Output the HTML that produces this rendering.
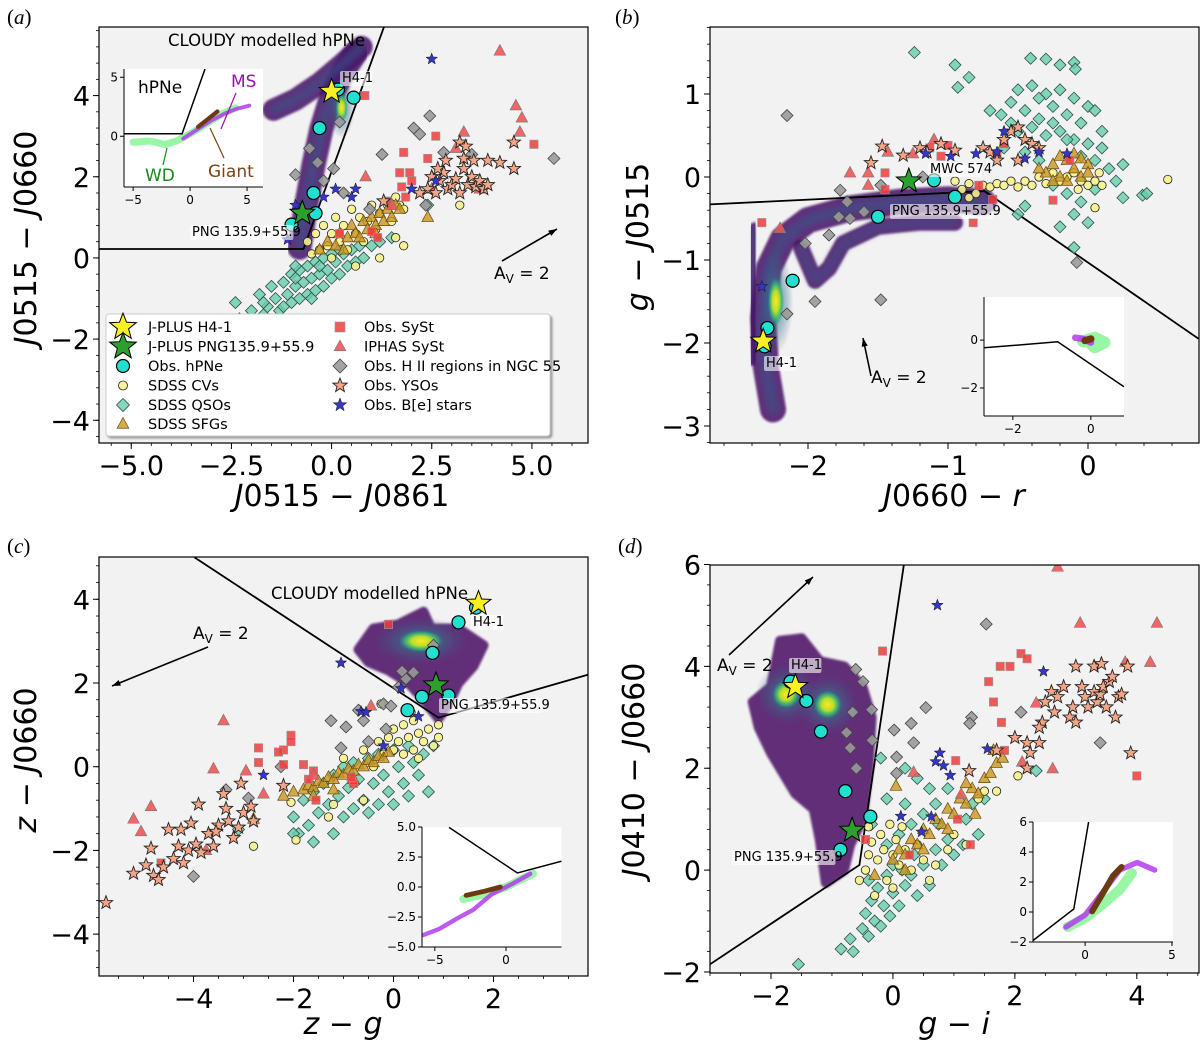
<!DOCTYPE html>
<html><head><meta charset="utf-8"><style>
html,body{margin:0;padding:0;background:#fff;}
svg{display:block;font-family:"DejaVu Sans","Liberation Sans",sans-serif;}
</style></head><body>
<svg id="fig" width="1200" height="1047" viewBox="0 0 1200 1047" xmlns="http://www.w3.org/2000/svg">
<defs>
<filter id="blur2" x="-20%" y="-20%" width="140%" height="140%"><feGaussianBlur stdDeviation="1"/></filter>
<filter id="blur5" x="-50%" y="-50%" width="200%" height="200%"><feGaussianBlur stdDeviation="4"/></filter>
<filter id="shadow" x="-5%" y="-5%" width="110%" height="115%"><feDropShadow dx="2" dy="2" stdDeviation="1" flood-color="#999"/></filter>
<radialGradient id="hot"><stop offset="0" stop-color="#fde725"/><stop offset="0.45" stop-color="#b5de2b"/><stop offset="0.75" stop-color="#35b779" stop-opacity="0.8"/><stop offset="1" stop-color="#21918c" stop-opacity="0"/></radialGradient>
<radialGradient id="warm"><stop offset="0" stop-color="#2a9d8a" stop-opacity="0.9"/><stop offset="1" stop-color="#3b528b" stop-opacity="0"/></radialGradient>
</defs>
</svg>
<script>
// ===== Panel (a) data: x = J0515-J0861, y = J0515-J0660 =====
const a_xTicks=[-5,-2.5,0,2.5,5];
const a_xTickLabels=['\u22125.0','\u22122.5','0.0','2.5','5.0'];
const a_yTicks=[-4,-2,0,2,4];
const a_yTickLabels=['\u22124','\u22122','0','2','4'];
const a_boundary=[[-5.8,0.22],[-0.7,0.22],[1.31,5.7]];
const a_cloudyStem=[[-0.8,0.25],[-0.65,1.2],[-0.45,2.3],[-0.25,3.2],[0.0,4.0],[0.3,4.6],[0.6,5.05]];
const a_cloudyArm=[[-1.45,3.65],[-0.9,3.9],[-0.3,4.3],[0.3,4.8],[0.75,5.2]];
const a_hot=[[0.25,3.7]];
const a_qso=[[-2.4,-1.1],[-2.3,-1.5],[-2.0,-1.3],[-1.8,-0.9],[-1.7,-1.4],[-1.6,-1.2],[-1.5,-0.7],[-1.4,-1.0],[-1.3,-1.3],[-1.2,-0.6],[-1.1,-0.9],[-1.0,-0.4],[-1.0,-1.1],[-0.9,-0.7],[-0.8,-0.3],[-0.8,-1.0],[-0.7,-0.6],[-0.6,-0.2],[-0.6,-0.9],[-0.5,-0.5],[-0.4,-0.1],[-0.4,-0.8],[-0.3,-0.4],[-0.2,0.0],[-0.2,-0.7],[-0.1,-0.3],[0,-0.5],[0.1,-0.1],[0.2,-0.4],[0.3,0.1],[0.4,-0.2],[0.5,0.2],[0.6,-0.1],[0.7,0.3],[0.8,0.0],[1.0,0.3],[1.2,0.4],[1.5,0.5],[2.4,1.3],[-1.7,-1.1],[-0.9,-0.2],[0.0,0.1],[-1.2,-1.2],[-0.5,-1.0],[0.2,0.2],[-0.9,-0.5],[-0.3,-0.2]];
const a_cv=[[-0.6,0.4],[-0.5,0.1],[-0.4,0.6],[-0.3,0.2],[-0.2,0.8],[-0.1,0.3],[0,0.6],[0,0.0],[0.1,1.0],[0.2,0.4],[0.3,0.8],[0.4,0.2],[0.5,1.2],[0.6,0.6],[0.7,1.0],[0.8,0.4],[0.9,0.9],[1.0,1.3],[1.1,0.7],[1.2,1.1],[1.4,1.3],[1.5,0.9],[1.6,1.5],[1.7,1.3],[1.8,1.2],[1.8,0.3],[1.2,0.0],[0.6,-0.2],[3.2,1.3],[0.3,1.6],[1.6,0.5]];
const a_sfg=[[-0.3,0.2],[-0.1,0.4],[0.1,0.3],[0.2,0.6],[0.4,0.5],[0.5,0.8],[0.6,0.6],[0.8,0.9],[0.9,0.7],[1.0,1.0],[1.1,0.8],[1.2,1.1],[1.3,0.9],[1.4,1.2],[1.5,1.0],[1.6,1.3],[1.7,1.2],[0.3,0.2],[0.7,0.5],[1.1,0.6],[2.4,1.0]];
const a_syst=[[0.83,4.0],[2.6,3.0],[5.05,2.8],[1.8,2.6],[2.4,2.45],[1.7,2.1],[1.95,2.1],[2.0,1.9],[1.75,1.75],[1.85,1.5],[1.4,1.4],[0.2,0.6],[1.0,0.65],[1.15,0.5]];
const a_iphas=[[4.2,5.1],[4.6,3.75],[4.75,3.45],[4.7,3.1],[3.3,3.1],[3.1,2.7],[0.85,2.0],[3.7,1.7],[1.5,1.3],[2.5,1.7]];
const a_hii=[[2.45,3.5],[2.05,3.2],[2.2,3.05],[1.26,2.55],[5.55,2.45],[-0.55,2.7],[-0.35,2.35],[-0.9,2.05],[0.05,2.2],[0.2,3.35],[2.8,2.6],[3.5,2.55],[0.3,1.6],[0.95,1.2],[-0.2,1.9],[2.35,1.3]];
const a_yso=[[2.4,1.7],[2.5,2.0],[2.6,1.6],[2.7,1.9],[2.8,2.1],[2.9,1.7],[3.0,1.8],[3.1,1.95],[3.2,1.6],[3.3,2.2],[3.4,1.8],[3.5,2.0],[3.6,1.75],[3.7,1.9],[3.8,1.7],[3.9,1.8],[3.3,2.45],[3.55,2.4],[2.85,2.4],[2.65,2.2],[3.9,2.4],[1.3,1.4],[2.2,1.6],[3.2,2.85],[3.35,2.75],[4.55,2.85],[4.55,2.2],[4.2,2.35]];
const a_be=[[2.5,4.9],[-1.1,0.45],[-0.9,1.3],[0.1,1.7],[0.5,1.5],[0.6,1.7],[2.0,1.7],[2.6,1.9],[-0.2,1.5]];
const a_hpne=[[0.16,4.15],[0.55,3.95],[-0.3,3.2],[-0.45,1.6],[-0.4,1.1],[-1.0,0.82]];
const a_h41=[[0.0,4.1]];
const a_png=[[-0.73,1.1]];
// panel (a) inset
const ai_xTicks=[-5,0,5]; const ai_xTickLabels=['\u22125','0','5'];
const ai_yTicks=[0,5]; const ai_yTickLabels=['0','5'];
const ai_boundary=[[-5.8,0.22],[-0.7,0.22],[1.31,5.7]];
const ai_wd=[[-5,-0.5],[-3.5,-0.4],[-2.2,-0.7],[-1.2,-0.4],[0,0.2],[1.5,1.1],[3,2.0],[4,2.4]];
const ai_ms=[[-0.6,-0.2],[0.5,0.5],[1.8,1.3],[3,1.9],[4,2.3],[5.2,2.6]];
const ai_giant=[[0.7,0.8],[1.5,1.4],[2.4,2.1]];

// ===== Panel (b) data: x = J0660-r, y = g-J0515 =====
const b_xTicks=[-2,-1,0]; const b_xTickLabels=['\u22122','\u22121','0'];
const b_yTicks=[-3,-2,-1,0,1]; const b_yTickLabels=['\u22123','\u22122','\u22121','0','1'];
const b_boundary=[[-2.7,-0.33],[-0.74,-0.17],[0.79,-1.95]];
const b_cloudyMain=[[-2.25,-2.8],[-2.3,-2.3],[-2.32,-1.7],[-2.28,-1.1],[-2.18,-0.75],[-2.0,-0.52],[-1.7,-0.38],[-1.35,-0.3],[-1.0,-0.27],[-0.75,-0.3]];
const b_cloudyStem=[[-2.4,-2.2],[-2.4,-1.2],[-2.38,-0.62]];
const b_cloudyLow=[[-2.05,-0.85],[-1.95,-1.25],[-1.85,-1.1],[-1.75,-0.8],[-1.5,-0.6],[-1.2,-0.55],[-0.95,-0.55]];
const b_hot=[[-2.23,-1.5]];
const b_qso=[[-1.24,1.5],[-0.95,1.35],[-0.85,1.2],[-0.93,1.08],[-0.41,1.43],[-0.3,1.42],[-0.2,1.35],[-0.1,1.38],[-0.09,1.3],[-0.5,1.05],[-0.4,1.1],[-0.3,1.0],[-0.2,1.05],[-0.1,0.95],[0.0,0.85],[-0.62,0.75],[-0.55,0.9],[-0.45,0.8],[-0.35,0.7],[-0.25,0.85],[-0.15,0.75],[-0.05,0.65],[0.05,0.8],[-0.7,0.8],[-0.5,0.55],[-0.4,0.6],[-0.3,0.5],[-0.2,0.55],[-0.1,0.45],[0.0,0.4],[0.1,0.35],[-0.6,0.35],[-0.45,0.3],[-0.35,0.2],[0.05,0.2],[0.15,0.1],[0.2,-0.05],[0.25,0.15],[-0.15,-0.2],[-0.05,-0.3],[0.05,-0.15],[-0.1,-0.45],[0.0,-0.55],[-0.2,-0.6],[-0.45,-0.35],[-0.5,-0.45],[0.39,-0.22],[0.42,-0.2],[-0.1,-0.85],[0.25,-0.25],[-0.25,-0.1],[-0.35,0.95],[-0.25,0.65],[-0.15,0.45],[-0.05,0.25],[0.1,0.55],[-0.55,0.65]];
const b_cv=[[-0.95,-0.05],[-0.9,-0.15],[-0.85,-0.08],[-0.8,-0.2],[-0.75,-0.1],[-0.7,-0.12],[-0.65,-0.08],[-0.6,-0.1],[-0.55,-0.05],[-0.5,-0.12],[-0.45,-0.05],[-0.4,-0.1],[-0.35,0.0],[-0.3,-0.08],[-0.25,0.05],[-0.2,-0.05],[-0.15,0.0],[-0.1,0.05],[-0.05,-0.05],[0.0,-0.1],[0.05,-0.05],[0.1,-0.1],[0.08,0.05],[-0.07,-0.15],[0.57,-0.03],[0.05,-0.37],[-0.85,-0.25]];
const b_sfg=[[-0.3,0.05],[-0.25,0.15],[-0.2,0.0],[-0.15,0.2],[-0.1,0.1],[-0.05,0.0],[0.0,0.15],[-0.2,0.25],[-0.1,0.28],[-0.25,-0.05],[-0.05,0.22],[0.0,0.05],[-0.35,0.1],[-0.15,-0.05]];
const b_syst=[[-2.33,-0.55],[-1.45,-0.15],[-1.45,0.05],[-1.13,0.35],[-1.0,0.38],[-1.05,0.25],[-0.6,0.4],[-0.78,-0.1],[-0.68,-0.27],[-0.82,-0.55],[-0.13,0.2],[-0.25,-0.28],[-0.65,0.25]];
const b_iphas=[[-2.2,-0.62],[-1.7,0.05],[-1.57,0.05],[-1.57,-0.1],[-1.43,0.3],[-1.25,0.28],[-1.1,0.45]];
const b_hii=[[-2.15,0.74],[-1.77,-0.16],[-1.72,-0.3],[-1.48,-0.1],[-1.48,-1.48],[-1.95,-1.5],[-2.15,-1.65],[-2.02,-0.8],[-1.6,-0.42],[-1.78,-0.48],[-1.7,-0.5],[-1.85,-0.7],[-0.08,-1.03],[-1.18,0.0]];
const b_yso=[[-1.47,0.37],[-1.32,0.26],[-1.55,0.17],[-1.2,0.35],[-1.15,0.3],[-1.05,0.4],[-0.95,0.32],[-0.75,0.35],[-0.7,0.3],[-0.6,0.45],[-0.55,0.55],[-0.5,0.6],[-0.45,0.45],[-0.4,0.4],[-0.35,0.35],[-0.65,0.2],[-0.5,0.2]];
const b_be=[[-2.33,-1.32],[-1.16,0.28],[-0.98,0.25],[-0.8,0.28],[-0.65,0.3],[-0.6,0.55],[-0.45,0.22],[-0.35,0.3],[-0.15,0.28]];
const b_hpne=[[-2.11,-1.25],[-2.29,-1.82],[-2.31,-2.04],[-1.5,-0.48],[-0.95,-0.24],[-1.1,-0.04]];
const b_h41=[[-2.32,-1.98]];
const b_png=[[-1.28,-0.05]];
const bi_xTicks=[-2,0]; const bi_xTickLabels=['\u22122','0'];
const bi_yTicks=[-2,0]; const bi_yTickLabels=['\u22122','0'];
const bi_boundary=[[-2.74,-0.32],[-0.85,-0.07],[0.85,-1.95]];
const bi_green=[[-0.2,-0.05],[0.1,0.1],[0.35,-0.1],[0.1,-0.3],[-0.1,0.0]];
const bi_ms=[[-0.4,0.1],[-0.2,0.05],[0.0,-0.1]];
const bi_giant=[[-0.15,-0.02],[0.0,0.05]];

// ===== Panel (c) data: x = z-g, y = z-J0660 =====
const c_xTicks=[-4,-2,0,2]; const c_xTickLabels=['\u22124','\u22122','0','2'];
const c_yTicks=[-4,-2,0,2,4]; const c_yTickLabels=['\u22124','\u22122','0','2','4'];
const c_boundary=[[-3.98,5.0],[0.9,1.17],[3.9,2.2]];
const c_cloudyBlob=[[-0.7,2.8],[-0.4,3.3],[0.1,3.4],[0.6,3.7],[0.75,3.3],[1.3,3.3],[1.8,2.9],[1.6,2.4],[1.3,2.0],[1.1,1.5],[0.9,1.15],[0.6,1.6],[0.3,2.0],[-0.1,2.3],[-0.5,2.5]];
const c_hot=[[0.55,3.0]];
const c_qso=[[-2.0,-1.2],[-1.9,-1.6],[-1.8,-0.8],[-1.7,-1.4],[-1.6,-0.6],[-1.5,-1.1],[-1.4,-0.4],[-1.3,-0.9],[-1.2,-1.6],[-1.2,-0.2],[-1.1,-0.7],[-1.0,-1.2],[-1.0,0.0],[-0.9,-0.5],[-0.8,-1.0],[-0.8,0.1],[-0.7,-0.3],[-0.6,-0.8],[-0.5,0.2],[-0.5,-1.1],[-0.4,-0.4],[-0.3,-0.9],[-0.3,0.3],[-0.2,-0.2],[-0.1,-0.6],[0.0,0.4],[0.0,-0.9],[0.1,0.0],[0.2,-0.4],[0.3,0.5],[0.3,-0.7],[0.4,0.1],[0.5,-0.2],[0.6,0.3],[0.7,-0.6],[0.8,0.5],[-3.1,-1.5],[-1.6,-1.8],[-2.0,-1.6]];
const c_cv=[[-1.0,0.2],[-0.8,-0.4],[-0.6,0.4],[-0.4,0.0],[-0.3,0.6],[-0.2,0.3],[-0.1,0.7],[0.0,0.4],[0.0,0.9],[0.1,0.6],[0.2,1.0],[0.2,0.3],[0.3,0.7],[0.4,1.1],[0.4,0.4],[0.5,0.8],[0.5,0.2],[0.6,0.6],[0.7,0.9],[0.8,0.5],[0.9,0.7],[0.35,1.3],[0.9,1.0],[-0.25,1.5],[-1.3,-1.2],[-2.8,-1.9],[-1.95,-1.75],[-2.05,-0.85],[-0.6,-0.8],[-1.2,-0.9]];
const c_sfg=[[-2.0,-0.6],[-1.8,-0.55],[-1.7,-0.45],[-1.6,-0.5],[-1.5,-0.35],[-1.4,-0.4],[-1.3,-0.25],[-1.2,-0.3],[-1.1,-0.15],[-1.0,-0.2],[-0.9,-0.05],[-0.8,-0.1],[-0.7,0.05],[-0.6,0.0],[-0.5,0.15],[-0.4,0.1],[-0.3,0.25],[-0.2,0.2],[-0.1,0.35],[-1.6,-0.7],[-1.2,-0.55],[-0.8,-0.3],[-2.8,-1.25],[-2.2,-0.7]];
const c_syst=[[-0.1,3.4],[-2.05,0.75],[-2.05,0.6],[-2.7,0.45],[-2.2,0.4],[-2.7,0.1],[-2.3,0.35],[-1.8,0.05],[-2.2,0.05],[-1.6,-0.1],[-1.7,-0.3],[-1.55,-0.8],[-0.8,-0.4],[-0.85,-0.25],[-4.65,-2.3]];
const c_iphas=[[-3.4,1.1],[-3.6,-0.05],[-2.95,-0.1],[-2.6,-0.65],[-4.85,-0.95],[-5.2,-1.25],[-5.05,-1.55],[-3.75,-2.0],[-0.45,1.45],[-1.6,-0.2]];
const c_hii=[[-1.25,1.1],[-0.95,0.95],[-0.2,1.5],[-0.05,1.45],[0.1,1.9],[0.25,2.1],[-0.15,0.9],[-0.5,0.6],[-1.05,0.45],[-2.25,0.0],[-3.35,-0.55],[-2.9,-0.75],[-4.0,-2.62],[0.8,2.9],[0.17,2.28],[0.4,2.25],[-0.6,1.1],[-0.7,1.35]];
const c_yso=[[-5.75,-3.25],[-5.2,-2.55],[-4.95,-2.35],[-4.85,-1.95],[-4.8,-2.6],[-4.7,-2.7],[-4.6,-2.4],[-4.5,-1.5],[-4.4,-2.2],[-4.3,-1.9],[-4.25,-1.5],[-4.2,-2.3],[-4.1,-2.0],[-4.05,-1.35],[-3.95,-1.85],[-3.9,-0.9],[-3.85,-2.05],[-3.7,-1.6],[-3.6,-1.9],[-3.5,-1.4],[-3.4,-0.65],[-3.35,-1.0],[-3.3,-1.3],[-3.2,-1.7],[-3.1,-1.45],[-3.0,-1.1],[-3.05,-0.4],[-2.85,-0.95],[-2.8,-1.3],[-2.2,-0.45],[-3.55,-1.55]];
const c_be=[[-1.05,2.48],[-0.65,1.32],[-0.55,1.3],[-2.6,-0.2],[0.15,1.87],[0.5,1.2],[-0.2,0.5]];
const c_hpne=[[1.65,3.8],[1.3,3.45],[0.78,2.72],[0.57,1.67],[1.1,1.7],[0.28,1.35]];
const c_h41=[[1.7,3.9]];
const c_png=[[0.85,1.95]];
const ci_xTicks=[-5,0]; const ci_xTickLabels=['\u22125','0'];
const ci_yTicks=[-5,-2.5,0,2.5,5]; const ci_yTickLabels=['\u22125.0','\u22122.5','0.0','2.5','5.0'];
const ci_boundary=[[-4.0,4.97],[0.8,1.17],[3.9,2.15]];
const ci_green=[[-3.0,-1.0],[-1.5,-0.6],[0,0.0],[1.0,0.6],[1.9,1.1]];
const ci_ms=[[-5.8,-4.0],[-4.7,-3.5],[-3.4,-2.6],[-2.3,-1.9],[-1.0,-0.6],[0.5,0.3],[1.7,1.1]];
const ci_giant=[[-2.8,-0.7],[-1.5,-0.35],[-0.4,0.0]];

// ===== Panel (d) data: x = g-i, y = J0410-J0660 =====
const d_xTicks=[-2,0,2,4]; const d_xTickLabels=['\u22122','0','2','4'];
const d_yTicks=[-2,0,2,4,6]; const d_yTickLabels=['\u22122','0','2','4','6'];
const d_boundary=[[-3.0,-1.85],[-0.55,0.1],[0.18,6.0]];
const d_cloudyBlob=[[-2.3,3.3],[-2.0,3.6],[-1.85,4.5],[-1.5,4.55],[-1.2,4.1],[-0.8,4.0],[-0.5,3.6],[-0.35,3.0],[-0.4,2.0],[-0.5,1.0],[-0.7,0.5],[-0.8,0.0],[-1.1,-0.25],[-1.2,0.6],[-1.3,1.2],[-1.6,1.5],[-1.8,1.9],[-2.0,2.3],[-2.2,2.8]];
const d_hot=[[-1.07,3.25],[-1.75,3.45]];
const d_qso=[[-1.55,-1.85],[-0.85,-1.55],[-0.65,-1.6],[-0.7,-1.35],[-0.5,-1.15],[-0.4,-1.3],[-0.45,-0.85],[-0.3,-1.0],[-0.2,-1.1],[-0.35,-0.6],[-0.15,-0.7],[-0.05,-0.9],[-0.25,-0.35],[0.0,-0.45],[0.1,-0.7],[0.2,-0.3],[-0.1,-0.1],[0.15,0.0],[0.3,-0.1],[0.4,-0.5],[0.5,0.1],[0.35,0.3],[0.6,-0.3],[0.7,0.4],[0.8,0.1],[0.9,0.6],[1.0,0.3],[-0.1,0.5],[0.1,0.7],[0.3,0.9],[0.5,1.1],[0.7,1.3],[0.9,1.6],[0.6,1.6],[0.4,1.8],[0.2,2.0],[-0.2,2.2],[-0.1,1.4],[-0.4,-0.2],[1.2,1.0],[1.4,0.7],[1.15,0.5],[1.5,1.4],[0.0,0.1],[0.2,1.3],[-0.35,0.9],[0.75,0.9],[1.3,1.3],[2.35,1.95]];
const d_cv=[[-0.55,-0.2],[-0.45,0.0],[-0.4,0.3],[-0.35,0.55],[-0.3,-0.5],[-0.25,0.2],[-0.2,0.7],[-0.15,0.4],[-0.1,-0.2],[-0.05,0.9],[0.0,0.3],[0.05,0.6],[0.1,0.1],[0.15,0.85],[0.2,0.4],[0.3,0.0],[0.4,0.5],[0.5,0.2],[0.6,-0.2],[0.7,0.1],[0.9,0.4],[1.0,0.7],[1.4,1.4],[1.5,1.55],[1.7,1.55],[1.2,0.5],[2.05,1.85],[-0.4,0.85],[0.0,-0.35]];
const d_sfg=[[0.0,0.2],[0.1,0.4],[0.2,0.3],[0.3,0.6],[0.4,0.5],[0.5,0.8],[0.6,0.7],[0.7,1.0],[0.8,0.9],[0.9,1.2],[1.0,1.1],[1.1,1.4],[1.2,1.3],[1.3,1.6],[1.4,1.5],[1.5,1.8],[1.6,1.9],[1.7,2.1],[1.8,2.2],[-0.3,-0.1],[0.2,0.0],[0.5,0.4],[0.9,0.8],[1.2,1.7],[0.05,1.65],[1.65,2.35],[1.35,1.1]];
const d_syst=[[-0.17,4.3],[2.1,4.25],[2.2,4.15],[1.76,4.0],[1.92,4.0],[1.57,3.7],[1.65,3.3],[1.78,2.9],[1.83,2.35],[1.03,2.15],[4.0,1.85],[1.06,1.0],[1.27,0.5],[0.27,0.3],[-0.45,0.6]];
const d_iphas=[[2.7,5.95],[3.07,4.85],[4.33,4.85],[4.22,4.08],[3.81,4.08],[2.35,3.28],[2.62,1.99],[2.12,2.12],[0.34,1.92],[1.12,1.49]];
const d_hii=[[1.53,4.83],[-0.61,3.94],[-0.49,3.7],[0.54,3.19],[-0.35,3.15],[-0.66,3.1],[1.29,3.0],[1.26,2.88],[2.1,3.1],[0.3,2.88],[-0.76,2.7],[0.02,2.75],[0.34,2.5],[-0.7,2.4],[-0.34,2.55],[-0.6,2.0],[0.06,2.22],[3.4,2.5],[0.06,1.9]];
const d_yso=[[2.2,2.0],[2.0,2.6],[2.2,2.5],[2.4,2.5],[2.25,2.3],[2.5,3.3],[2.45,2.9],[2.6,3.5],[2.7,3.4],[2.8,3.6],[2.65,3.1],[2.9,3.0],[2.95,3.2],[3.0,2.9],[3.1,3.6],[3.15,3.4],[3.2,3.2],[3.3,3.5],[3.35,3.3],[3.4,3.45],[3.45,3.6],[3.5,3.2],[3.55,3.7],[3.6,3.8],[3.65,3.0],[3.7,3.4],[3.3,4.0],[3.42,4.05],[3.85,4.0],[3.75,3.45],[3.0,4.0],[3.9,2.3],[1.25,1.95],[1.7,2.35],[2.4,2.8]];
const d_be=[[0.73,5.2],[2.47,3.9],[1.55,2.38],[0.77,2.3],[0.7,2.13],[0.83,2.05],[0.94,1.86],[0.13,1.06],[0.63,1.05],[0.47,0.75]];
const d_hpne=[[-1.68,3.7],[-1.42,3.32],[-1.18,2.72],[-0.78,1.55],[-0.37,1.05],[-0.86,0.4]];
const d_h41=[[-1.6,3.6]];
const d_png=[[-0.67,0.78]];
const di_xTicks=[0,5]; const di_xTickLabels=['0','5'];
const di_yTicks=[-2,0,2,4,6]; const di_yTickLabels=['\u22122','0','2','4','6'];
const di_boundary=[[-3.0,-1.9],[-0.65,0.2],[0.2,6.0]];
const di_green=[[-1.0,-1.0],[0.0,-0.4],[1.0,0.5],[2.0,1.5],[2.7,2.6]];
const di_ms=[[-1.1,-1.0],[0.0,-0.2],[1.0,1.3],[2.0,2.8],[3.0,3.3],[4.0,2.8]];
const di_giant=[[0.4,0.05],[1.0,1.2],[1.6,2.4],[2.1,3.0]];

// ================= rendering =================
const NS='http://www.w3.org/2000/svg';
const svg=document.getElementById('fig');
function mk(tag,attrs,parent){const e=document.createElementNS(NS,tag);for(const k in attrs)e.setAttribute(k,attrs[k]);(parent||svg).appendChild(e);return e;}
function scale(d0,d1,p0,p1){return v=>p0+(v-d0)/(d1-d0)*(p1-p0);}
function starPts(cx,cy,r){let s=[];for(let i=0;i<10;i++){const a=-Math.PI/2+i*Math.PI/5;const rr=i%2?r*0.42:r;s.push((cx+rr*Math.cos(a)).toFixed(1)+','+(cy+rr*Math.sin(a)).toFixed(1));}return s.join(' ');}
function marker(g,type,x,y,s,fill,stroke,sw,op){
  let e;
  if(type==='circle')e=mk('circle',{cx:x,cy:y,r:s},g);
  else if(type==='square')e=mk('rect',{x:x-s,y:y-s,width:2*s,height:2*s},g);
  else if(type==='diamond')e=mk('polygon',{points:`${x},${y-s} ${x+s},${y} ${x},${y+s} ${x-s},${y}`},g);
  else if(type==='triangle')e=mk('polygon',{points:`${x},${y-s} ${x+s*0.9},${y+s*0.65} ${x-s*0.9},${y+s*0.65}`},g);
  else e=mk('polygon',{points:starPts(x,y,s)},g);
  e.setAttribute('fill',fill);e.setAttribute('stroke',stroke);e.setAttribute('stroke-width',sw||0.8);
  if(op!==undefined)e.setAttribute('fill-opacity',op);
  return e;
}
const STY={
 qso:['diamond',6,'#66cdaa','#2f4f4f',0.8,0.8],
 cv:['circle',4.2,'#f7f28c','#222',0.8,0.9],
 sfg:['triangle',6.5,'#c8961e','#6b4a10',0.7,0.8],
 syst:['square',4.2,'#f03c3c','#999',0.6,0.85],
 iphas:['triangle',6.5,'#f05555','#777',0.6,0.9],
 hii:['diamond',6,'#9a9a9a','#444',0.8,0.9],
 yso:['star',7,'#f4a585','#222',0.9,1],
 be:['star',6,'#3535c8','#111',0.5,1],
 hpne:['circle',6.5,'#20e0cf','#000',1.2,1],
 h41:['star',13,'#f8f020','#000',1,1],
 png:['star',13,'#2ca02c','#000',1,1]
};
function series(g,pts,sx,sy,key,name){
  const st=STY[key];
  pts.forEach(p=>{
    const m=marker(g,st[0],sx(p[0]),sy(p[1]),st[1],st[2],st[3],st[4],st[5]);
    
    
  });
}
function pathD(pts,sx,sy){return pts.map((p,i)=>(i?'L':'M')+sx(p[0]).toFixed(1)+','+sy(p[1]).toFixed(1)).join(' ');}
function text(g,x,y,str,size,anchor,extra){const t=mk('text',{x:x,y:y,'font-size':size,'text-anchor':anchor||'start'},g);t.textContent=str;if(extra)for(const k in extra)t.setAttribute(k,extra[k]);return t;}
function mathLabel(g,x,y,parts,size,rot){
  const t=mk('text',{x:x,y:y,'font-size':size,'text-anchor':'middle'},g);
  if(rot)t.setAttribute('transform',`rotate(-90 ${x} ${y})`);
  parts.forEach(p=>{const s=mk('tspan',{},t);s.textContent=p[0];if(p[1])s.setAttribute('font-style','italic');});
  return t;
}
function makePanel(id,box,dom,xt,xtl,yt,ytl,xmin,ymin){
  const g=mk('g',{});
  
  
  const sx=scale(dom[0],dom[1],box[0],box[1]);
  const sy=scale(dom[2],dom[3],box[3],box[2]);
  const bg=mk('rect',{x:box[0],y:box[2],width:box[1]-box[0],height:box[3]-box[2],fill:'#f2f2f2'},g);
  
  
  const cp=mk('clipPath',{id:'clip'+id},g);
  mk('rect',{x:box[0],y:box[2],width:box[1]-box[0],height:box[3]-box[2]},cp);
  const plot=mk('g',{'clip-path':`url(#clip${id})`},g);
  const ax=mk('g',{},g);
  
  
  for(let v=Math.ceil(dom[0]/xmin)*xmin;v<=dom[1]+1e-9;v+=xmin){const X=sx(v);mk('line',{x1:X,x2:X,y1:box[3],y2:box[3]+3,stroke:'#000','stroke-width':0.8},ax);}
  for(let v=Math.ceil(dom[2]/ymin)*ymin;v<=dom[3]+1e-9;v+=ymin){const Y=sy(v);mk('line',{x1:box[0]-3,x2:box[0],y1:Y,y2:Y,stroke:'#000','stroke-width':0.8},ax);}
  xt.forEach((v,i)=>{const X=sx(v);mk('line',{x1:X,x2:X,y1:box[3],y2:box[3]+6,stroke:'#000','stroke-width':1},ax);
    const t=text(ax,X,box[3]+32,xtl[i],27,'middle');});
  yt.forEach((v,i)=>{const Y=sy(v);mk('line',{x1:box[0]-6,x2:box[0],y1:Y,y2:Y,stroke:'#000','stroke-width':1},ax);
    const t=text(ax,box[0]-9,Y+10,ytl[i],27,'end');});
  return {g,plot,ax,sx,sy,box};
}
function frame(P){const r=mk('rect',{x:P.box[0],y:P.box[2],width:P.box[1]-P.box[0],height:P.box[3]-P.box[2],fill:'none',stroke:'#000','stroke-width':1.2},P.g);}
function boundary(P,pts){const p=mk('path',{d:pathD(pts,P.sx,P.sy),fill:'none',stroke:'#000','stroke-width':1.8},P.plot);}
function cloudyLine(P,pts,w){
  const g=mk('g',{},P.plot);
  
  
  const d=pathD(pts,P.sx,P.sy);
  mk('path',{d:d,fill:'none',stroke:'#4a0e64','stroke-width':w,'stroke-linecap':'round','stroke-linejoin':'round',opacity:0.85,filter:'url(#blur2)'},g);
  mk('path',{d:d,fill:'none',stroke:'#3b528b','stroke-width':w*0.45,'stroke-linecap':'round','stroke-linejoin':'round',opacity:0.7,filter:'url(#blur5)'},g);
}
function cloudyBlob(P,pts){
  const g=mk('g',{},P.plot);
  
  
  const d=pathD(pts,P.sx,P.sy)+'Z';
  mk('path',{d:d,fill:'#4a0e64',stroke:'#4a0e64','stroke-width':10,'stroke-linejoin':'round',opacity:0.85,filter:'url(#blur2)'},g);
}
function hot(P,pts,rx,ry){
  pts.forEach(p=>{
    const w=mk('ellipse',{cx:P.sx(p[0]),cy:P.sy(p[1]),rx:rx*2.2,ry:ry*2.2,fill:'url(#warm)'},P.plot);
    
    
    const e=mk('ellipse',{cx:P.sx(p[0]),cy:P.sy(p[1]),rx:rx,ry:ry,fill:'url(#hot)'},P.plot);
    
    
  });
}
function drawAll(P,S){
  series(P.plot,S.qso,P.sx,P.sy,'qso','sdss-qso-point');
  series(P.plot,S.cv,P.sx,P.sy,'cv','sdss-cv-point');
  series(P.plot,S.sfg,P.sx,P.sy,'sfg','sdss-sfg-point');
  series(P.plot,S.hii,P.sx,P.sy,'hii','hii-region-point');
  series(P.plot,S.syst,P.sx,P.sy,'syst','obs-syst-point');
  series(P.plot,S.iphas,P.sx,P.sy,'iphas','iphas-syst-point');
  series(P.plot,S.yso,P.sx,P.sy,'yso','yso-point');
  series(P.plot,S.be,P.sx,P.sy,'be','be-star-point');
  series(P.plot,S.hpne,P.sx,P.sy,'hpne','obs-hpne-point');
  series(P.plot,S.h41,P.sx,P.sy,'h41','jplus-h4-1-star');
  series(P.plot,S.png,P.sx,P.sy,'png','jplus-png-star');
}
function tagLabel(g,x,y,str,name){
  const w=str.length*7.1+4;
  const r=mk('rect',{x:x-2,y:y-11,width:w,height:15,fill:'#fff',opacity:0.6,rx:2},g);
  
  
  const t=text(g,x,y,str,13,'start');
  
  
}
function avArrow(g,x1,y1,x2,y2,lx,ly){
  const a=mk('line',{x1:x1,y1:y1,x2:x2,y2:y2,stroke:'#000','stroke-width':1.6},g);
  
  
  const ang=Math.atan2(y2-y1,x2-x1),h=9;
  const hd=mk('polygon',{points:`${x2},${y2} ${x2-h*Math.cos(ang-0.35)},${y2-h*Math.sin(ang-0.35)} ${x2-h*Math.cos(ang+0.35)},${y2-h*Math.sin(ang+0.35)}`,fill:'#000'},g);
  
  
  const t=mk('text',{x:lx,y:ly,'font-size':17},g);
  
  
  const s1=mk('tspan',{},t);s1.textContent='A';
  const s2=mk('tspan',{'font-size':12,dy:4},t);s2.textContent='V';
  const s3=mk('tspan',{dy:-4},t);s3.textContent=' = 2';
}
function inset(parent,id,box,dom,xt,xtl,yt,ytl,bnd,green,ms,giant,gw){
  const g=mk('g',{},parent);
  
  
  const sx=scale(dom[0],dom[1],box[0],box[1]);
  const sy=scale(dom[2],dom[3],box[3],box[2]);
  mk('rect',{x:box[0],y:box[2],width:box[1]-box[0],height:box[3]-box[2],fill:'#fff'},g);
  const cp=mk('clipPath',{id:'iclip'+id},g);
  mk('rect',{x:box[0],y:box[2],width:box[1]-box[0],height:box[3]-box[2]},cp);
  const pl=mk('g',{'clip-path':`url(#iclip${id})`},g);
  const gr=mk('path',{d:pathD(green,sx,sy),fill:'none',stroke:'#8ef59a','stroke-width':gw,'stroke-linecap':'round','stroke-linejoin':'round',opacity:0.9},pl);
  
  
  const m=mk('path',{d:pathD(ms,sx,sy),fill:'none',stroke:'#b23bf0','stroke-width':gw*0.55,'stroke-linecap':'round','stroke-linejoin':'round',opacity:0.85},pl);
  
  
  const gi=mk('path',{d:pathD(giant,sx,sy),fill:'none',stroke:'#6b3a10','stroke-width':gw*0.6,'stroke-linecap':'round','stroke-linejoin':'round'},pl);
  
  
  const b=mk('path',{d:pathD(bnd,sx,sy),fill:'none',stroke:'#000','stroke-width':1.5},pl);
  
  
  mk('line',{x1:box[0],x2:box[0],y1:box[2],y2:box[3],stroke:'#000','stroke-width':1},g);
  mk('line',{x1:box[0],x2:box[1],y1:box[3],y2:box[3],stroke:'#000','stroke-width':1},g);
  xt.forEach((v,i)=>{const X=sx(v);mk('line',{x1:X,x2:X,y1:box[3],y2:box[3]+4,stroke:'#000'},g);const t=text(g,X,box[3]+17,xtl[i],12,'middle');});
  yt.forEach((v,i)=>{const Y=sy(v);mk('line',{x1:box[0]-4,x2:box[0],y1:Y,y2:Y,stroke:'#000'},g);const t=text(g,box[0]-6,Y+4,ytl[i],12,'end');});
  return {g,sx,sy};
}
function panelTag(x,y,l){const t=mk('text',{x:x,y:y,'font-size':21,'font-family':'"Liberation Serif",serif'});
  const a=mk('tspan',{},t);a.textContent='(';const b=mk('tspan',{'font-style':'italic'},t);b.textContent=l;const c=mk('tspan',{},t);c.textContent=')';}

// ---------- Panel A ----------
panelTag(7,24,'a');
const PA=makePanel('a',[99,588,27,443],[-5.805,6.40,-4.56,5.69],a_xTicks,a_xTickLabels,a_yTicks,a_yTickLabels,0.5,0.4);
cloudyLine(PA,a_cloudyStem,24);
cloudyLine(PA,a_cloudyArm,22);
hot(PA,a_hot,6,14);
boundary(PA,a_boundary);
drawAll(PA,{qso:a_qso,cv:a_cv,sfg:a_sfg,hii:a_hii,syst:a_syst,iphas:a_iphas,yso:a_yso,be:a_be,hpne:a_hpne,h41:a_h41,png:a_png});
tagLabel(PA.plot,342,82,'H4-1','h4-1-label');
tagLabel(PA.plot,192,236,'PNG 135.9+55.9','png-label');
{const t=text(PA.plot,168,46,'CLOUDY modelled hPNe',16.5,'start');}
avArrow(PA.plot,502,261,557,229,494,279);
const IA=inset(PA.plot,'a',[124,263,69,187],[-5.8,6.4,-4.3,5.7],ai_xTicks,ai_xTickLabels,ai_yTicks,ai_yTickLabels,ai_boundary,ai_wd,ai_ms,ai_giant,7);
{const t=text(IA.g,138,93,'hPNe',17);
 const m=text(IA.g,231,87,'MS',17,'start',{fill:'#9a0fb0'});
 const w=text(IA.g,145,181,'WD',17,'start',{fill:'#138a13'});
 const gi=text(IA.g,208,177,'Giant',17,'start',{fill:'#7a4510'});
 mk('line',{x1:236,y1:93,x2:221,y2:129,stroke:'#9a0fb0','stroke-width':1.2},IA.g);
 mk('line',{x1:163,y1:165,x2:167,y2:148,stroke:'#138a13','stroke-width':1.2},IA.g);
 mk('line',{x1:224,y1:158,x2:210,y2:128,stroke:'#7a4510','stroke-width':1.2},IA.g);}
{
 const L=mk('g',{},PA.g);
 
 
 mk('rect',{x:106,y:314,width:444,height:122,rx:3,fill:'#fff',stroke:'#ccc',filter:'url(#shadow)'},L);
 const rowsY=[327,346.5,366,385.5,405,424];
 const col1=[['h41','J-PLUS H4-1',14],['png','J-PLUS PNG135.9+55.9',14],['hpne','Obs. hPNe',6.5],['cv','SDSS CVs',4.5],['qso','SDSS QSOs',6.5],['sfg','SDSS SFGs',6.5]];
 const col2=[['syst','Obs. SySt',5],['iphas','IPHAS SySt',6.5],['hii','Obs. H II regions in NGC 55',7],['yso','Obs. YSOs',7.5],['be','Obs. B[e] stars',7]];
 [[col1,123,148],[col2,340,364]].forEach(([col,mx,tx])=>{
   col.forEach((c,i)=>{const st=STY[c[0]];const m=marker(L,st[0],mx,rowsY[i],c[2],st[2],st[3],st[4],st[5]);
     
     
     const t=text(L,tx,rowsY[i]+5,c[1],14.5);
     
     });
 });
}
frame(PA);
mathLabel(svg,342,506,[['J',1],['0515 \u2212 ',0],['J',1],['0861',0]],30);
mathLabel(svg,36,238,[['J',1],['0515 \u2212 ',0],['J',1],['0660',0]],30,true);

// ---------- Panel B ----------
panelTag(615,24,'b');
const PB=makePanel('b',[710,1199,27,443],[-2.7,0.793,-3.205,1.807],b_xTicks,b_xTickLabels,b_yTicks,b_yTickLabels,0.2,0.2);
cloudyLine(PB,b_cloudyStem,12);
cloudyLine(PB,b_cloudyLow,16);
cloudyLine(PB,b_cloudyMain,26);
hot(PB,b_hot,8,24);
boundary(PB,b_boundary);
drawAll(PB,{qso:b_qso,cv:b_cv,sfg:b_sfg,hii:b_hii,syst:b_syst,iphas:b_iphas,yso:b_yso,be:b_be,hpne:b_hpne,h41:b_h41,png:b_png});
tagLabel(PB.plot,930,173,'MWC 574','mwc574-label');
tagLabel(PB.plot,892,215,'PNG 135.9+55.9','png-label');
tagLabel(PB.plot,766,367,'H4-1','h4-1-label');
avArrow(PB.plot,871,376,863,338,871,383);
inset(PB.plot,'b',[984,1124,297,416],[-2.74,0.85,-3.17,1.8],bi_xTicks,bi_xTickLabels,bi_yTicks,bi_yTickLabels,bi_boundary,bi_green,bi_ms,bi_giant,12);
frame(PB);
mathLabel(svg,954,506,[['J',1],['0660 \u2212 ',0],['r',1]],30);
mathLabel(svg,648,237,[['g',1],[' \u2212 ',0],['J',1],['0515',0]],30,true);

// ---------- Panel C ----------
panelTag(7,553,'c');
const PC=makePanel('c',[99,588,557,976],[-5.89,3.89,-5.0,5.01],c_xTicks,c_xTickLabels,c_yTicks,c_yTickLabels,0.5,0.4);
cloudyBlob(PC,c_cloudyBlob);
hot(PC,c_hot,22,11);
boundary(PC,c_boundary);
drawAll(PC,{qso:c_qso,cv:c_cv,sfg:c_sfg,hii:c_hii,syst:c_syst,iphas:c_iphas,yso:c_yso,be:c_be,hpne:c_hpne,h41:c_h41,png:c_png});
tagLabel(PC.plot,473,626,'H4-1','h4-1-label');
tagLabel(PC.plot,441,709,'PNG 135.9+55.9','png-label');
{const t=text(PC.plot,271,599,'CLOUDY modelled hPNe',16.5);}
avArrow(PC.plot,208,647,112,686,193,639);
inset(PC.plot,'c',[422,561.5,827,947],[-5.9,3.9,-5.0,5.0],ci_xTicks,ci_xTickLabels,ci_yTicks,ci_yTickLabels,ci_boundary,ci_green,ci_ms,ci_giant,8);
frame(PC);
mathLabel(svg,343,1034,[['z',1],[' \u2212 ',0],['g',1]],30);
mathLabel(svg,36,760,[['z',1],[' \u2212 ',0],['J',1],['0660',0]],30,true);

// ---------- Panel D ----------
panelTag(618,553,'d');
const PD=makePanel('d',[710,1199,565,973],[-3.0,5.02,-2.02,5.99],d_xTicks,d_xTickLabels,d_yTicks,d_yTickLabels,0.5,0.4);
cloudyBlob(PD,d_cloudyBlob);
hot(PD,d_hot,14,14);
boundary(PD,d_boundary);
drawAll(PD,{qso:d_qso,cv:d_cv,sfg:d_sfg,hii:d_hii,syst:d_syst,iphas:d_iphas,yso:d_yso,be:d_be,hpne:d_hpne,h41:d_h41,png:d_png});
tagLabel(PD.plot,791,669,'H4-1','h4-1-label');
tagLabel(PD.plot,734,861,'PNG 135.9+55.9','png-label');
avArrow(PD.plot,729,655,813,577,717,671);
inset(PD.plot,'d',[1033,1173,822,942],[-3.0,5.06,-2.0,6.0],di_xTicks,di_xTickLabels,di_yTicks,di_yTickLabels,di_boundary,di_green,di_ms,di_giant,10);
frame(PD);
mathLabel(svg,954,1034,[['g',1],[' \u2212 ',0],['i',1]],30);
mathLabel(svg,644,770,[['J',1],['0410 \u2212 ',0],['J',1],['0660',0]],30,true);
</script>
</body></html>
